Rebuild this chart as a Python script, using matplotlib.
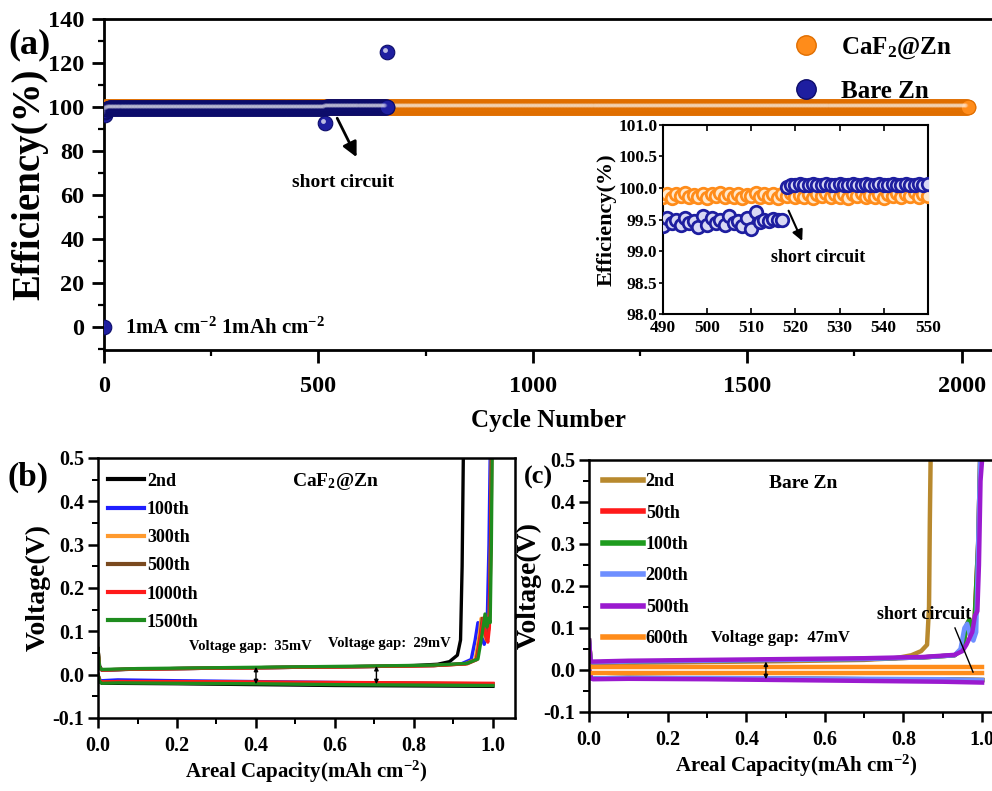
import numpy as np
import matplotlib

matplotlib.use("Agg")
import matplotlib.pyplot as plt
from matplotlib import transforms
from matplotlib.lines import Line2D
from matplotlib.ticker import MultipleLocator, FormatStrFormatter

plt.rcParams["font.family"] = ["Liberation Serif", "DejaVu Serif"]
plt.rcParams["font.weight"] = "bold"
plt.rcParams["axes.labelweight"] = "bold"
plt.rcParams["mathtext.fontset"] = "custom"
plt.rcParams["mathtext.rm"] = "Liberation Serif:bold"
plt.rcParams["mathtext.bf"] = "Liberation Serif:bold"
plt.rcParams["mathtext.it"] = "Liberation Serif:bold:italic"
plt.rcParams["mathtext.default"] = "rm"

# ---------------- (a) coulombic efficiency ----------------
# runs of (nearly) constant efficiency: start, end, value
caf2_seg_start = [1, 551]
caf2_seg_end = [489, 2015]
caf2_seg_eff = [99.9, 99.9]

bare_seg_start = [1, 2, 3, 4, 6, 11, 31, 551]
bare_seg_end = [1, 2, 3, 5, 10, 30, 489, 660]
bare_seg_eff = [0.0, 96.5, 97.5, 98.3, 98.9, 99.3, 99.5, 100.05]

# cycles 490-550
zoom_cycles = list(range(490, 551))
caf2_zoom_eff = [
    99.86, 99.91, 99.84, 99.90, 99.87, 99.92, 99.85, 99.89, 99.86, 99.91,
    99.84, 99.90, 99.87, 99.92, 99.85, 99.90, 99.86, 99.91, 99.84, 99.89,
    99.87, 99.92, 99.85, 99.90, 99.86, 99.91, 99.84, 99.90, 99.87, 99.92,
    99.85, 99.89, 99.86, 99.91, 99.84, 99.90, 99.87, 99.92, 99.85, 99.90,
    99.86, 99.91, 99.84, 99.90, 99.87, 99.92, 99.85, 99.89, 99.86, 99.91,
    99.84, 99.90, 99.87, 99.92, 99.85, 99.90, 99.88, 99.93, 99.86, 99.91, 99.88,
]
bare_zoom_eff = [
    99.40, 99.52, 99.45, 99.50, 99.42, 99.53, 99.44, 99.48, 99.38, 99.55,
    99.42, 99.52, 99.45, 99.50, 99.41, 99.55, 99.44, 99.47, 99.40, 99.52,
    99.35, 99.62, 99.46, 99.50, 99.48, 99.51, 99.50, 99.50, 100.02, 100.05,
    100.05, 100.06, 100.05, 100.05, 100.06, 100.05, 100.05, 100.06, 100.05, 100.05,
    100.06, 100.05, 100.05, 100.06, 100.05, 100.05, 100.06, 100.05, 100.05, 100.06,
    100.05, 100.05, 100.06, 100.05, 100.05, 100.06, 100.05, 100.05, 100.06, 100.05, 100.06,
]
bare_spike_cycle = [515, 661]
bare_spike_eff = [92.5, 125.0]

# ---------------- (b) CaF2@Zn voltage profiles ----------------
b_labels = ["2nd", "100th", "300th", "500th", "1000th", "1500th"]
b_chg_cap = [
    [0, .004, .01, .1, .3, .5, .7, .8, .86, .89, .91, .918, .922, .925],
    [0, .004, .01, .1, .3, .5, .7, .85, .92, .945, .955, .962, .970, .978, .985, .99, .993],
    [0, .004, .01, .1, .3, .5, .7, .85, .93, .955, .965, .970, .976, .983, .99, .994, .996],
    [0, .004, .01, .1, .3, .5, .7, .85, .93, .958, .968, .973, .979, .985, .99, .994, .996],
    [0, .004, .01, .1, .3, .5, .7, .85, .935, .96, .970, .976, .982, .987, .991, .995, .997],
    [0, .004, .01, .1, .3, .5, .7, .85, .935, .962, .972, .980, .985, .989, .993, .996, .998],
]
b_chg_v = [
    [.06, .02, .010, .013, .015, .017, .019, .021, .024, .030, .045, .08, .25, .5],
    [.05, .015, .011, .013, .015, .017, .019, .021, .025, .035, .08, .12, .09, .07, .10, .30, .5],
    [.05, .015, .011, .013, .015, .017, .019, .021, .025, .035, .09, .13, .10, .08, .11, .30, .5],
    [.05, .015, .011, .013, .015, .017, .019, .021, .025, .035, .09, .13, .10, .08, .11, .30, .5],
    [.06, .015, .011, .013, .015, .017, .019, .021, .025, .035, .10, .13, .09, .075, .11, .30, .5],
    [.06, .015, .012, .014, .016, .018, .020, .022, .026, .036, .09, .14, .11, .13, .12, .30, .5],
]
b_dis_cap = [
    [0, .004, .01, .05, .2, .4, .6, .8, 1.0],
    [0, .004, .01, .05, .2, .4, .6, .8, 1.0],
    [0, .004, .01, .05, .2, .4, .6, .8, 1.0],
    [0, .004, .01, .05, .2, .4, .6, .8, 1.0],
    [0, .004, .01, .05, .2, .4, .6, .8, 1.0],
    [0, .004, .01, .05, .2, .4, .6, .8, 1.0],
]
b_dis_v = [
    [0.0, -.016, -.020, -.020, -.021, -.023, -.025, -.026, -.027],
    [0.0, -.012, -.014, -.012, -.014, -.016, -.018, -.020, -.022],
    [0.0, -.014, -.017, -.016, -.017, -.018, -.019, -.020, -.021],
    [0.0, -.014, -.017, -.016, -.017, -.018, -.019, -.020, -.021],
    [0.0, -.014, -.017, -.016, -.016, -.017, -.018, -.019, -.020],
    [0.0, -.016, -.020, -.019, -.020, -.021, -.023, -.024, -.025],
]

# ---------------- (c) bare Zn voltage profiles ----------------
c_labels = ["2nd", "50th", "100th", "200th", "500th", "600th"]
c_chg_cap = [
    [0, .004, .01, .1, .3, .5, .7, .78, .82, .845, .86, .865, .867, .869],
    [0, .004, .01, .1, .3, .5, .7, .85, .93, .95, .962, .968, .975, .98, .99, .995],
    [0, .004, .01, .1, .3, .5, .7, .85, .93, .95, .962, .968, .975, .98, .99, .995],
    [0, .004, .01, .1, .3, .5, .7, .85, .93, .945, .955, .962, .97, .978, .985, .99, .995],
    [0, .004, .01, .1, .3, .5, .7, .85, .93, .95, .96, .975, .982, .988, .992, .996, 1.0],
    [0, 1.0],
]
c_chg_v = [
    [.07, .02, .015, .017, .019, .021, .024, .028, .035, .045, .06, .15, .35, .5],
    [.07, .02, .018, .020, .022, .024, .026, .030, .035, .05, .11, .12, .09, .10, .30, .5],
    [.07, .02, .018, .020, .022, .024, .026, .030, .035, .05, .11, .12, .09, .10, .30, .5],
    [.07, .02, .018, .020, .022, .024, .026, .030, .035, .05, .10, .11, .08, .07, .09, .30, .5],
    [.07, .02, .020, .022, .024, .026, .028, .031, .036, .045, .06, .09, .13, .14, .25, .45, .5],
    [.007, .007],
]
c_dis_cap = [
    [0, .005, .01, .1, .3, .5, .7, .9, 1.0],
    [0, .005, .01, .1, .3, .5, .7, .9, 1.0],
    [0, .005, .01, .1, .3, .5, .7, .9, 1.0],
    [0, .005, .01, .1, .3, .5, .7, .9, 1.0],
    [0, .005, .01, .1, .3, .5, .7, .9, 1.0],
    [0, 1.0],
]
c_dis_v = [
    [0.0, -.018, -.020, -.019, -.020, -.021, -.022, -.023, -.024],
    [0.0, -.018, -.020, -.019, -.020, -.021, -.022, -.023, -.024],
    [0.0, -.018, -.020, -.019, -.020, -.021, -.022, -.023, -.024],
    [0.0, -.018, -.020, -.019, -.019, -.020, -.021, -.022, -.024],
    [0.0, -.020, -.022, -.021, -.022, -.024, -.026, -.028, -.030],
    [-.007, -.007],
]

ORANGE = "#FF8C1A"
ORANGE_E = "#E06E00"
NAVY = "#1E1EA0"
NAVY_E = "#0C0C6A"
B_COLORS = ["#000000", "#1F1FFF", "#FF9A2E", "#7A4A1F", "#FF1A1A", "#1E8C1E"]
C_COLORS = ["#B8892E", "#FF1A1A", "#1E9C1E", "#6E8FFF", "#9A1ACF", "#FF8C1A"]


def expand(starts, ends, vals):
    xs, ys = [], []
    for s, e, v in zip(starts, ends, vals):
        n = np.arange(s, e + 1)
        xs.append(n)
        ys.append(np.full(n.size, v))
    return np.concatenate(xs), np.concatenate(ys)


def spheres(ax, x, y, face, edge, ms, hl, hl_alpha):
    ax.plot(x, y, "o", ls="none", ms=ms, mfc=face, mec=edge, mew=0.8, zorder=3)
    tr = transforms.offset_copy(ax.transData, fig=ax.figure, x=-ms * 0.15, y=ms * 0.15, units="points")
    ax.plot(x, y, "o", ls="none", ms=hl, mfc="white", mec="none", alpha=hl_alpha, transform=tr, zorder=3)


def style_axes(ax, lw=1.8):
    for s in ax.spines.values():
        s.set_linewidth(lw)
    ax.tick_params(which="major", direction="out", length=7, width=lw)
    ax.tick_params(which="minor", direction="out", length=4, width=lw * 0.8)


fig = plt.figure(figsize=(9.92, 7.91), dpi=100, facecolor="white")

# ---------------- panel a ----------------
ax = fig.add_axes([0.1048, 0.5575, 0.897, 0.4185])
caf_x, caf_y = expand(caf2_seg_start, caf2_seg_end, caf2_seg_eff)
caf_x = np.concatenate([caf_x, zoom_cycles])
caf_y = np.concatenate([caf_y, caf2_zoom_eff])
order = np.argsort(caf_x, kind="stable")
bare_x, bare_y = expand(bare_seg_start, bare_seg_end, bare_seg_eff)
bare_x = np.concatenate([bare_x, zoom_cycles])
bare_y = np.concatenate([bare_y, bare_zoom_eff])
order_b = np.argsort(bare_x, kind="stable")

spheres(ax, caf_x[order], caf_y[order], ORANGE, ORANGE_E, 10.5, 3.0, 0.12)
spheres(ax, bare_x[order_b], bare_y[order_b], NAVY, NAVY_E, 10.5, 3.0, 0.12)
spheres(ax, bare_spike_cycle, bare_spike_eff, NAVY, NAVY_E, 10.5, 3.5, 0.7)

ax.set_xlim(0, 2075)
ax.set_ylim(-10.6, 140)
ax.set_xticks([0, 500, 1000, 1500, 2000])
ax.xaxis.set_minor_locator(MultipleLocator(250))
ax.set_yticks(range(0, 141, 20))
ax.yaxis.set_minor_locator(MultipleLocator(10))
style_axes(ax, 2.0)
ax.tick_params(which="major", length=9)
ax.tick_params(axis="x", which="both", pad=10, labelsize=17.5)
ax.tick_params(axis="y", which="both", pad=5, labelsize=17.5)
ax.set_ylabel("Efficiency(%)", fontsize=28, labelpad=0)
ax.set_xlabel("Cycle Number", fontsize=18, labelpad=8)

ax.annotate("", xy=(592, 76), xytext=(541, 96),
            arrowprops=dict(arrowstyle="-|>", color="black", lw=2.0, mutation_scale=22))
ax.text(557, 65.5, "short circuit", fontsize=14, ha="center", va="center")
ax.text(49, -0.5, "1mA cm$^{-2}$ 1mAh cm$^{-2}$", fontsize=15, ha="left", va="center")

leg_handles = [
    Line2D([], [], ls="none", marker="o", ms=14, mfc=ORANGE, mec=ORANGE_E),
    Line2D([], [], ls="none", marker="o", ms=14, mfc=NAVY, mec=NAVY_E),
]
ax.legend(leg_handles, ["CaF$_2$@Zn", "Bare Zn"], loc="upper left",
          bbox_to_anchor=(0.8, 0.955), bbox_transform=fig.transFigure,
          frameon=False, fontsize=18, handlelength=1.0, handletextpad=0.9,
          labelspacing=0.75, borderpad=0, borderaxespad=0)
fig.text(0.008, 0.943, "(a)", fontsize=26, ha="left", va="center")

# inset
axi = fig.add_axes([0.6683, 0.603, 0.267, 0.239])
for cyc, eff, face, edge in [(zoom_cycles, caf2_zoom_eff, "#FFE8CC", ORANGE),
                             (zoom_cycles, bare_zoom_eff, "#D8D8F4", NAVY)]:
    axi.plot(cyc, eff, "o", ls="none", ms=9, mfc=face, mec=edge, mew=2.0, zorder=3)
axi.set_xlim(490, 550)
axi.set_ylim(98.0, 101.0)
axi.set_xticks(range(490, 551, 10))
axi.set_yticks(np.arange(98.0, 101.01, 0.5))
axi.yaxis.set_major_formatter(FormatStrFormatter("%.1f"))
for s in axi.spines.values():
    s.set_linewidth(1.5)
axi.tick_params(axis="x", direction="in", length=4, width=1.2, labelsize=12.5, top=True, pad=4)
axi.tick_params(axis="y", direction="out", length=3, width=1.2, labelsize=12.5, pad=1)
axi.set_ylabel("Efficiency(%)", fontsize=16, labelpad=1)
axi.annotate("", xy=(521.8, 99.12), xytext=(518.2, 99.68),
             arrowprops=dict(arrowstyle="-|>", color="black", lw=1.5, mutation_scale=16))
axi.text(525.2, 98.9, "short circuit", fontsize=13, ha="center", va="center")

# ---------------- panel b ----------------
axb = fig.add_axes([0.0988, 0.0923, 0.420, 0.3287])
handles_b = []
for i, lab in enumerate(b_labels):
    axb.plot(b_dis_cap[i], b_dis_v[i], color=B_COLORS[i], lw=2.4)
    h, = axb.plot(b_chg_cap[i], b_chg_v[i], color=B_COLORS[i], lw=2.4, label=lab)
    handles_b.append(h)
axb.set_xlim(0, 1.055)
axb.set_ylim(-0.1, 0.5)
axb.set_xticks(np.arange(0, 1.01, 0.2))
axb.xaxis.set_minor_locator(MultipleLocator(0.1))
axb.yaxis.set_minor_locator(MultipleLocator(0.05))
axb.xaxis.set_major_formatter(FormatStrFormatter("%.1f"))
axb.yaxis.set_major_formatter(FormatStrFormatter("%.1f"))
style_axes(axb, 1.8)
axb.tick_params(axis="both", which="both", labelsize=14.5)
axb.tick_params(axis="x", pad=6)
axb.tick_params(axis="y", pad=3)
axb.set_ylabel("Voltage(V)", fontsize=20, labelpad=1)
axb.set_xlabel("Areal Capacity(mAh cm$^{-2}$)", fontsize=15, labelpad=2)
legb = axb.legend(handles=handles_b, loc="upper left", bbox_to_anchor=(0.02, 0.95), frameon=False,
                  fontsize=13, handlelength=2.0, handletextpad=0.15, labelspacing=0.62,
                  borderpad=0.1, borderaxespad=0)
for ln in legb.get_lines():
    ln.set_linewidth(3.0)
axb.text(0.6, 0.445, "CaF$_2$@Zn", fontsize=14, ha="center", va="center")
axb.text(0.387, 0.064, "Voltage gap:  35mV", fontsize=10.5, ha="center", va="center")
axb.text(0.737, 0.073, "Voltage gap:  29mV", fontsize=10.5, ha="center", va="center")
for xg, top, bot in [(0.4, 0.018, -0.022), (0.705, 0.020, -0.022)]:
    axb.annotate("", xy=(xg, bot), xytext=(xg, top),
                 arrowprops=dict(arrowstyle="<|-|>", color="black", lw=1.0, mutation_scale=6,
                                 shrinkA=0, shrinkB=0))
fig.text(0.008, 0.397, "(b)", fontsize=24, ha="left", va="center")

# ---------------- panel c ----------------
axc = fig.add_axes([0.5938, 0.0999, 0.418, 0.3186])
handles_c = []
for i, lab in enumerate(c_labels):
    axc.plot(c_dis_cap[i], c_dis_v[i], color=C_COLORS[i], lw=3.2)
    h, = axc.plot(c_chg_cap[i], c_chg_v[i], color=C_COLORS[i], lw=3.2, label=lab)
    handles_c.append(h)
axc.set_xlim(0, 1.055)
axc.set_ylim(-0.1, 0.5)
axc.set_xticks(np.arange(0, 1.01, 0.2))
axc.xaxis.set_minor_locator(MultipleLocator(0.1))
axc.yaxis.set_minor_locator(MultipleLocator(0.05))
axc.xaxis.set_major_formatter(FormatStrFormatter("%.1f"))
axc.yaxis.set_major_formatter(FormatStrFormatter("%.1f"))
style_axes(axc, 1.8)
axc.tick_params(axis="both", which="both", labelsize=14.5)
axc.tick_params(axis="x", pad=6)
axc.tick_params(axis="y", pad=3)
axc.set_ylabel("Voltage(V)", fontsize=20, labelpad=1)
axc.set_xlabel("Areal Capacity(mAh cm$^{-2}$)", fontsize=15, labelpad=2)
legc = axc.legend(handles=handles_c, loc="upper left", bbox_to_anchor=(0.03, 0.955), frameon=False,
                  fontsize=13, handlelength=2.2, handletextpad=0.15, labelspacing=0.8,
                  borderpad=0.1, borderaxespad=0)
for ln in legc.get_lines():
    ln.set_linewidth(4.0)
axc.text(0.545, 0.443, "Bare Zn", fontsize=14, ha="center", va="center")
axc.text(0.486, 0.076, "Voltage gap:  47mV", fontsize=12, ha="center", va="center")
axc.annotate("", xy=(0.45, -0.022), xytext=(0.45, 0.020),
             arrowprops=dict(arrowstyle="<|-|>", color="black", lw=1.0, mutation_scale=6,
                             shrinkA=0, shrinkB=0))
axc.text(0.852, 0.131, "short circuit", fontsize=13, ha="center", va="center")
axc.plot([0.931, 0.977], [0.1, -0.005], color="black", lw=1.0)
fig.text(0.528, 0.397, "(c)", fontsize=19, ha="left", va="center")

fig.savefig("out.png", dpi=100, facecolor="white")
